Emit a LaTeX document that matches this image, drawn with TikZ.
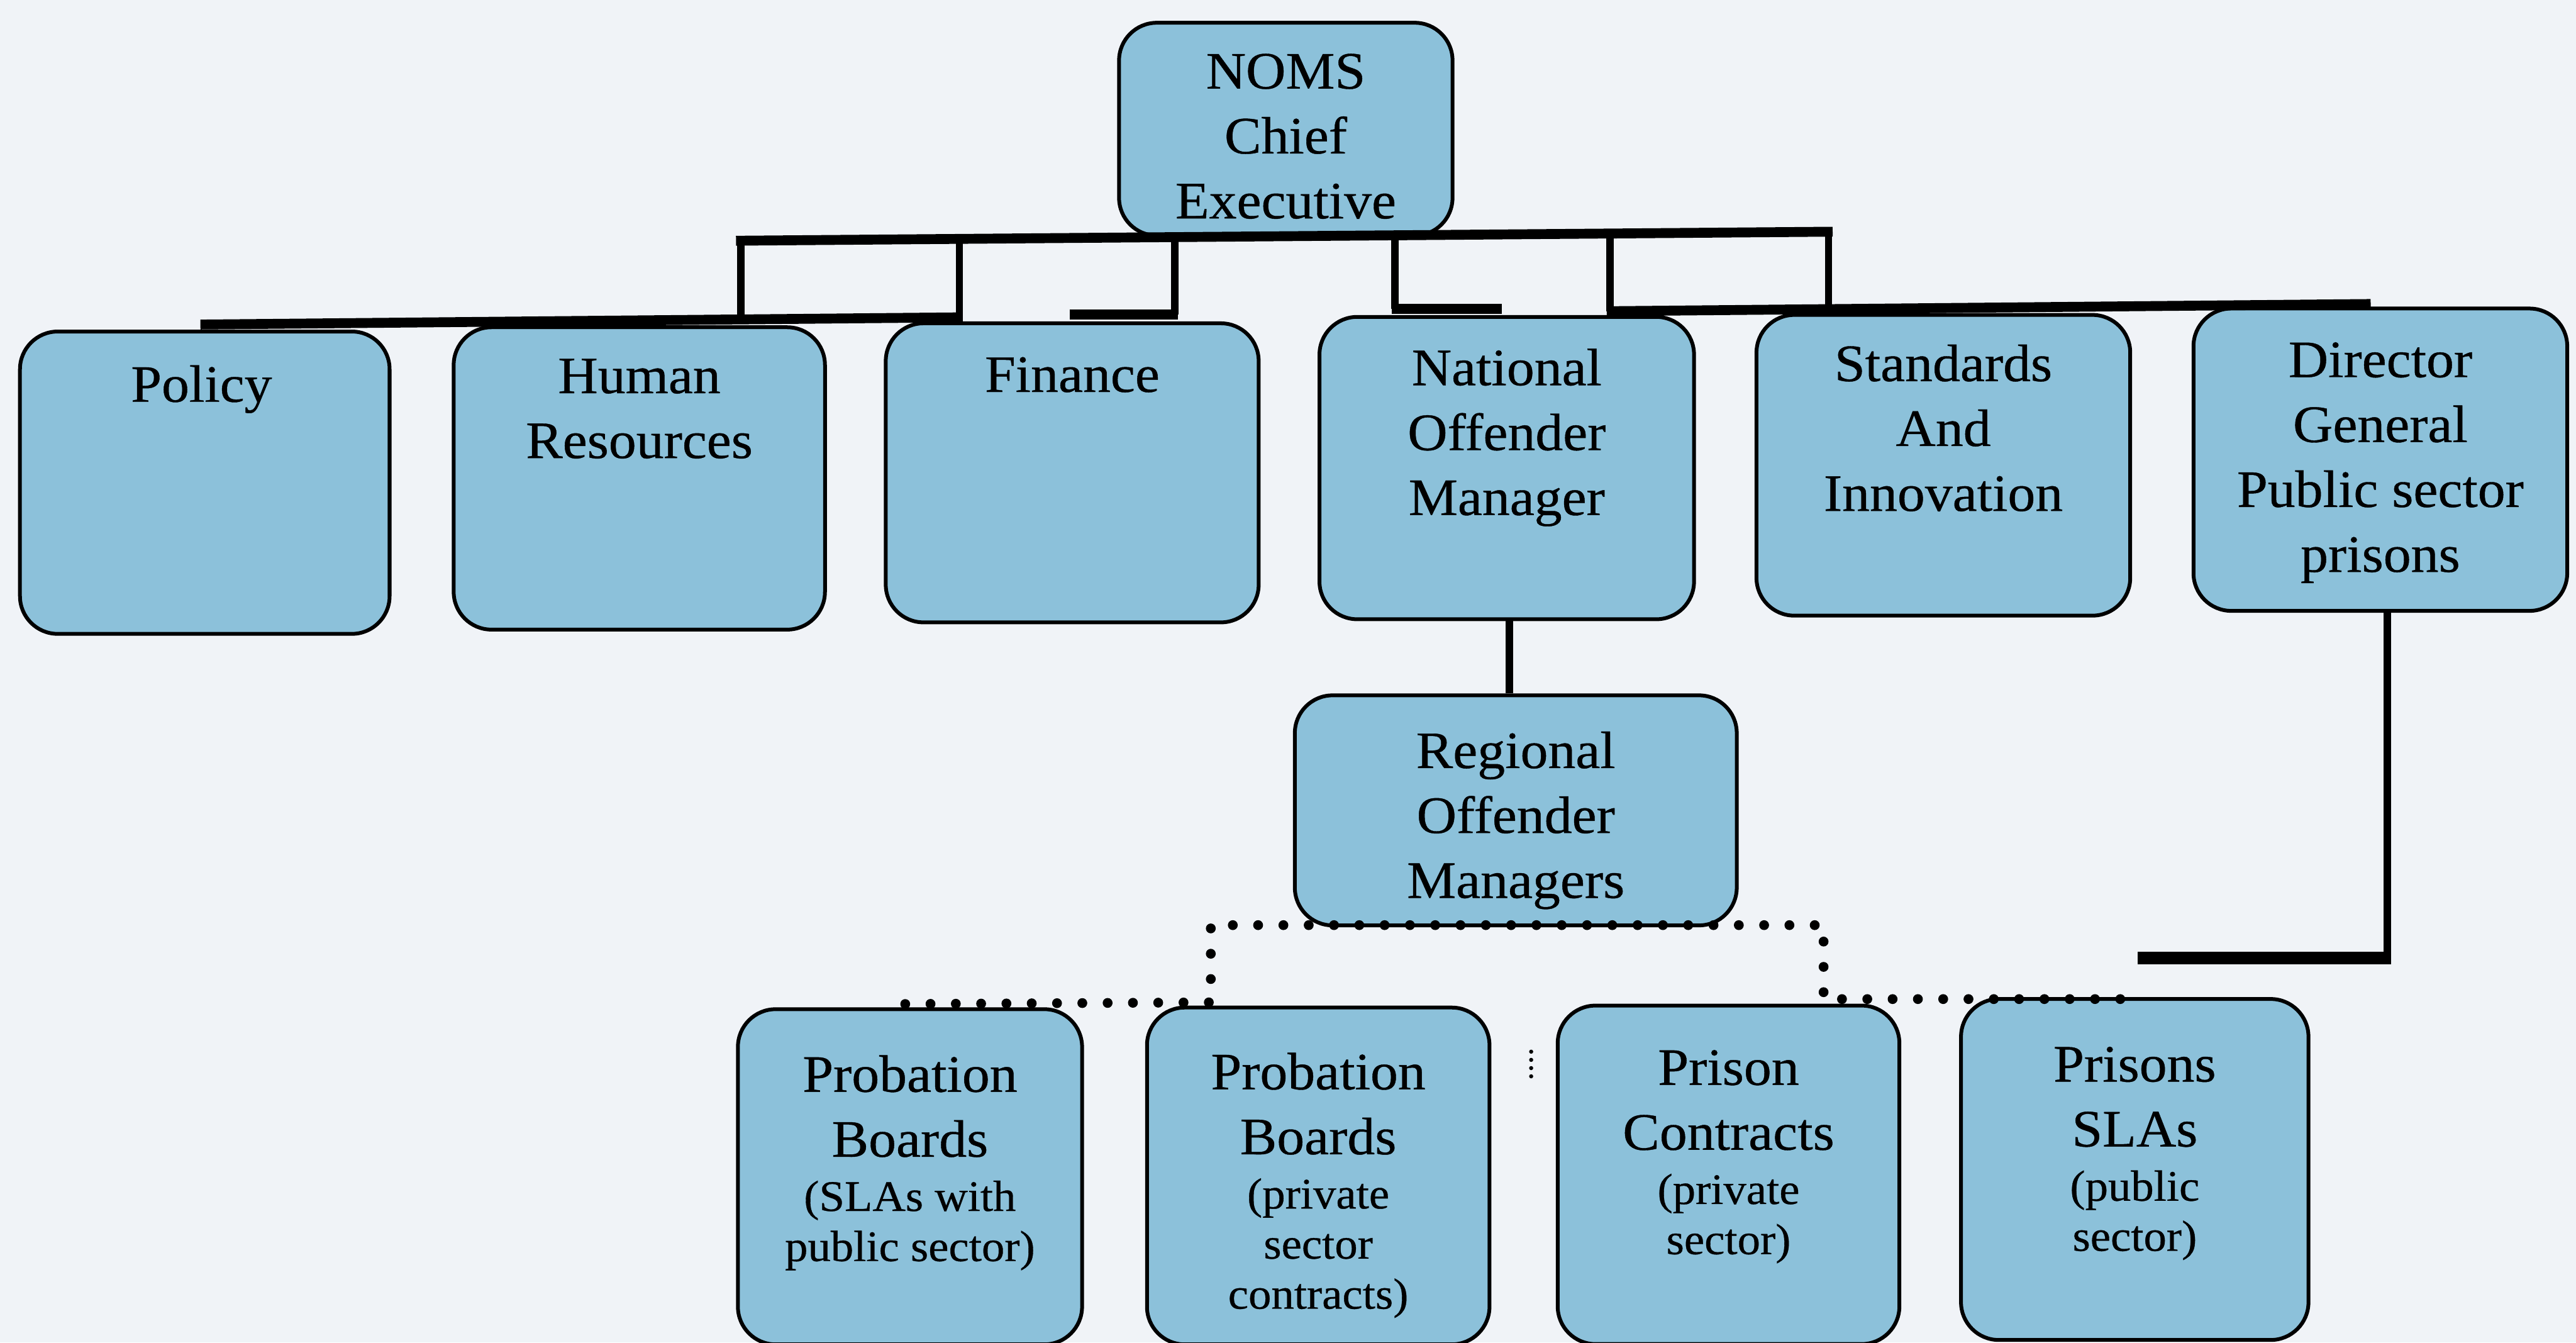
\documentclass[tikz,border=0pt]{standalone}
\usepackage{fontspec}
\setmainfont{Liberation Serif}[FakeStretch=1.05, FakeBold=0.5]
\usetikzlibrary{positioning}

\definecolor{boxblue}{RGB}{140,193,218}
\definecolor{paper}{RGB}{240,243,247}
\newcommand{\subtxt}{\fontsize{26.5}{30}\selectfont}

\tikzset{
  unit/.style={draw, line width=2.3pt, fill=boxblue, rounded corners=23pt, anchor=north west,
    inner sep=0pt, minimum width=227pt, minimum height=184pt},
  lbl/.style={font=\fontsize{32}{39.5}\selectfont, align=center, inner sep=0pt},
  bar/.style={line width=6pt},
  riser/.style={line width=4.5pt},
  dots/.style={line width=6pt, line cap=round, dash pattern=on 0pt off 15.4pt}
}

\begin{document}
\begin{tikzpicture}[x=1pt,y=-1pt]
%page
\fill[paper] (0,0) rectangle (1568,817);
\useasboundingbox (0,0) rectangle (1568,817);

%boxes
\node[unit, minimum width=203pt, minimum height=129.5pt] (noms) at (680,12.7) {};
\node[unit, minimum width=225pt] (pol) at (11,200.6) {};
\node[unit, minimum width=226pt] (hr) at (275,198) {};
\node[unit, minimum height=182pt] (fin) at (538,195.6) {};
\node[unit, minimum width=228pt] (nom) at (802,191.7) {};
\node[unit, minimum width=227.5pt, minimum height=183pt] (sai) at (1068,190.5) {};
\node[unit, minimum width=227.5pt] (dg) at (1334,186.6) {};
\node[unit, minimum width=269pt, minimum height=140pt] (rom) at (787,422) {};
\node[unit, minimum width=209.5pt, minimum height=204pt] (pbp) at (448,613) {};
\node[unit, minimum width=208.5pt, minimum height=205pt] (pbc) at (697,612) {};
\node[unit, minimum width=208pt, minimum height=206pt] (pc) at (947,610.8) {};
\node[unit, minimum width=211.5pt, minimum height=207.5pt] (psl) at (1192.5,606.8) {};

%labels
\node[lbl, below=19.8pt of noms.north] (nomsT) {NOMS\\Chief\\Executive};
\node[lbl, below=21.5pt of pol.north, xshift=-2pt] (polT) {Policy};
\node[lbl, below=20.1pt of hr.north] (hrT) {Human\\Resources};
\node[lbl, below=21.5pt of fin.north] (finT) {Finance};
\node[lbl, below=20.3pt of nom.north] (nomT) {National\\Offender\\Manager};
\node[lbl, below=19pt of sai.north] (saiT) {Standards\\And\\Innovation};
\node[lbl, below=21.5pt of dg.north] (dgT) {Director\\General\\Public sector\\prisons};
\node[lbl, below=23pt of rom.north] (romT) {Regional\\Offender\\Managers};
\node[lbl, below=29pt of pbp.north] (pbpT) {Probation\\Boards\\[-6.5pt]{\subtxt (SLAs with}\\[-9pt]{\subtxt public sector)}};
\node[lbl, below=28.5pt of pbc.north] (pbcT) {Probation\\Boards\\[-6.5pt]{\subtxt (private}\\[-9pt]{\subtxt sector}\\[-9pt]{\subtxt contracts)}};
\node[lbl, below=28pt of pc.north] (pcT) {Prison\\Contracts\\[-6.5pt]{\subtxt (private}\\[-9pt]{\subtxt sector)}};
\node[lbl, below=30pt of psl.north] (pslT) {Prisons\\SLAs\\[-6.5pt]{\subtxt (public}\\[-9pt]{\subtxt sector)}};

%bus under the chief executive
\coordinate (busL) at (448,146.5);
\coordinate (busR) at (1115.5,141);
\draw[bar] (busL) -- (busR);
\foreach \x/\ya/\yb in {451/146.5/194.4, 584/145.4/193.1, 715/144.3/191.5,
                         849/143.2/188, 980/142.1/189.4, 1113/141/188.1}
  \draw[riser] (\x,\ya) -- (\x,\yb);

%bus over the units
\coordinate (lowL) at (122,197.5);
\coordinate (lowM) at (586,193.1);
\coordinate (lowR) at (978,189.4);
\coordinate (lowE) at (1443,185);
\draw[bar] (lowL) -- (lowM);
\draw[bar] (lowR) -- (lowE);
\draw[bar] (651,191.5) -- (717,191.5);
\draw[bar] (847,188) -- (914,188);

%national -> regional
\coordinate (romIn) at (918.7,422);
\draw[riser] (nom.south -| romIn) -- (romIn);

%director general
\coordinate (dgEnd) at (1453,580);
\coordinate (dgTail) at (1301,583);
\draw[riser] (dg.south -| dgEnd) -- (dgEnd);
\draw[line width=7.5pt] (1455.3,583) -- (dgTail);

%dotted links
\coordinate (dotL) at (737,563);
\coordinate (dotR) at (1110,563);
\draw[dots] (551,611) -- (737,610) -- (dotL) -- (dotR) -- (1110,608) -- (1298,608);
\draw[dots, line width=2.5pt, dash pattern=on 0pt off 5pt] (932,640) -- (932,656);

\end{tikzpicture}
\end{document}
